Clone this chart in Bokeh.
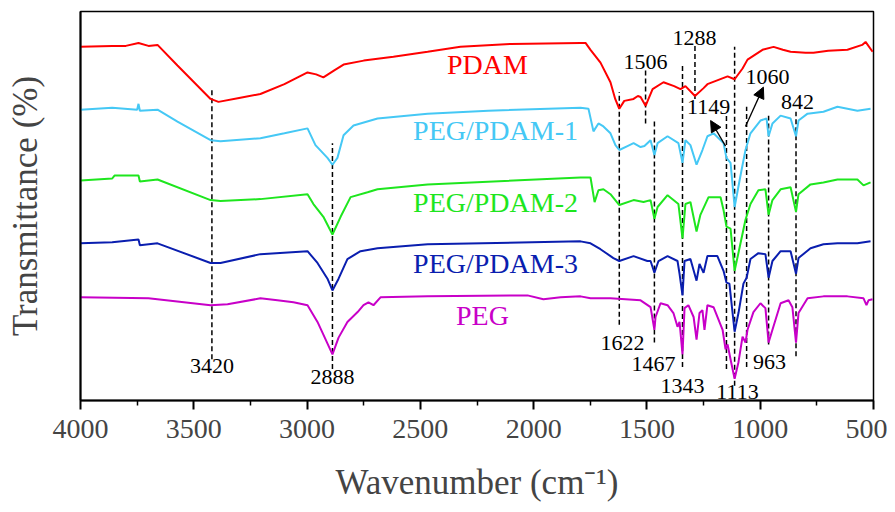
from bokeh.plotting import figure
from bokeh.models import Range1d, FixedTicker, Arrow, NormalHead
from bokeh.core.properties import value
from bokeh.embed import file_html
from bokeh.resources import INLINE

# ---------------- data (wavenumber in cm-1, transmittance in arbitrary offset units) -------------
pdam_wn = [4000, 3860, 3800, 3744, 3700, 3660, 3572, 3426, 3391, 3300, 3206, 3100, 2998, 2960, 2928, 2880,
           2839, 2750, 2619, 2468, 2323, 2100, 1793, 1771, 1749, 1705, 1661, 1640, 1622, 1600, 1559, 1540,
           1528, 1506, 1475, 1427, 1380, 1352, 1330, 1288, 1250, 1233, 1144, 1113, 1078, 1056, 990, 941,
           900, 866, 800, 765, 700, 615, 550, 535, 504]
pdam_t = [360, 361, 361, 364, 361, 362, 341, 307, 304, 308, 312, 322, 334, 332, 329, 336,
          342, 346, 350, 355, 360, 363, 364, 364, 357, 344, 324, 307, 297, 305, 307, 310,
          309, 300, 317, 324, 320, 317, 320, 310, 318, 322, 330, 327, 338, 347, 357, 360,
          357, 355, 354, 354, 356, 357, 362, 365, 355]

peg1_wn = [4000, 3860, 3750, 3744, 3738, 3660, 3572, 3426, 3382, 3206, 3100, 2998, 2963, 2910, 2888, 2866,
           2839, 2795, 2689, 2468, 2200, 1793, 1758, 1736, 1714, 1692, 1661, 1639, 1622, 1586, 1559, 1528,
           1511, 1484, 1467, 1453, 1409, 1361, 1343, 1330, 1308, 1281, 1255, 1233, 1206, 1162, 1149, 1131,
           1113, 1087, 1065, 1043, 999, 972, 963, 946, 910, 866, 842, 831, 791, 721, 659, 571, 513]
peg1_t = [296, 298, 296, 302, 295, 296, 284, 265, 264, 267, 272, 277, 260, 247, 240, 247,
          270, 280, 287, 292, 295, 298, 297, 274, 282, 279, 272, 260, 255, 259, 262, 258,
          259, 265, 250, 262, 269, 262, 242, 265, 260, 240, 255, 269, 272, 262, 247, 242,
          197, 229, 255, 272, 285, 287, 269, 282, 290, 287, 269, 285, 292, 294, 299, 295, 297]

peg2_wn = [4000, 3860, 3850, 3744, 3738, 3660, 3426, 3382, 3206, 2998, 2972, 2928, 2888, 2852, 2808, 2733,
           2689, 2468, 1793, 1749, 1731, 1714, 1692, 1661, 1622, 1559, 1515, 1484, 1467, 1453, 1409, 1361,
           1343, 1330, 1308, 1281, 1264, 1228, 1175, 1162, 1149, 1131, 1113, 1087, 1065, 1043, 1008, 977,
           963, 946, 910, 866, 842, 831, 778, 721, 659, 571, 544, 513]
peg2_t = [224, 226, 229, 229, 223, 225, 204, 203, 205, 210, 200, 187, 169, 187, 207, 212,
          215, 220, 227, 227, 202, 214, 215, 210, 199, 204, 202, 204, 185, 197, 209, 200,
          165, 200, 202, 172, 189, 207, 207, 194, 177, 175, 132, 160, 184, 200, 214, 215,
          189, 204, 215, 217, 192, 210, 220, 222, 225, 225, 219, 222]

peg3_wn = [4000, 3860, 3744, 3738, 3660, 3426, 3382, 3206, 2998, 2954, 2910, 2888, 2861, 2822, 2764, 2689,
           2468, 1793, 1749, 1705, 1648, 1622, 1559, 1498, 1484, 1467, 1449, 1409, 1365, 1356, 1343, 1334,
           1308, 1281, 1268, 1250, 1233, 1189, 1162, 1149, 1136, 1113, 1096, 1074, 1060, 1043, 1008, 977,
           963, 946, 910, 866, 842, 831, 778, 721, 659, 571, 513]
peg3_t = [160, 161, 164, 158, 160, 140, 140, 149, 152, 140, 124, 112, 124, 144, 152, 155,
          159, 162, 160, 154, 145, 142, 147, 142, 142, 130, 142, 147, 142, 129, 107, 142,
          144, 122, 139, 130, 147, 147, 132, 120, 119, 70, 89, 119, 125, 144, 150, 149,
          125, 142, 152, 152, 129, 145, 155, 159, 160, 160, 162]

peg_wn = [4000, 3700, 3426, 3351, 3206, 3131, 3060, 2998, 2954, 2928, 2888, 2861, 2822, 2777, 2751, 2729,
          2707, 2676, 2468, 2027, 1957, 1881, 1793, 1749, 1661, 1528, 1484, 1467, 1462, 1440, 1409, 1383,
          1365, 1356, 1343, 1334, 1317, 1294, 1281, 1268, 1255, 1246, 1233, 1206, 1166, 1153, 1144, 1131,
          1113, 1096, 1078, 1065, 1056, 1030, 999, 977, 963, 946, 910, 875, 858, 842, 831, 791, 721, 615,
          544, 531, 522, 504]
peg_t = [105, 104, 97, 98, 104, 102, 100, 97, 80, 67, 47, 64, 80, 90, 97, 100,
         97, 105, 106, 107, 103, 105, 106, 104, 104, 102, 95, 72, 85, 99, 97, 89,
         75, 80, 47, 94, 97, 85, 62, 89, 92, 72, 97, 95, 72, 52, 57, 42,
         22, 39, 65, 59, 72, 90, 99, 94, 59, 72, 99, 102, 95, 59, 89, 104, 106, 106,
         104, 97, 102, 103]

series_names = ["PDAM", "PEG/PDAM-1", "PEG/PDAM-2", "PEG/PDAM-3", "PEG"]

# peak marker lines
peak_wn = [3420, 2888, 1622, 1506, 1467, 1343, 1288, 1149, 1113, 1060, 963, 842]
peak_top = [319, 262, 314, 337, 285, 342, 362, 292, 360, 299, 290, 294]
peak_bottom = [42, 32, 77, 282, 59, 34, 307, 32, 15, 34, 57, 45]

# peak labels
plabel_text = ["3420", "2888", "1622", "1506", "1467", "1343", "1288", "1149", "1113", "1060", "963", "842"]
plabel_wn = [3420, 2888, 1608, 1506, 1471, 1343, 1290, 1228, 1100, 968, 959, 835]
plabel_t = [35, 24, 59, 345, 37, 15, 369, 299, 9, 329, 39, 304]

# arrows (start -> end)
arrow_wn0 = [1153, 1065]
arrow_t0 = [259, 279]
arrow_wn1 = [1219, 986]
arrow_t1 = [285, 319]

# series name labels
slabel_wn = [2204, 2168, 2168, 2168, 2226]
slabel_t = [342, 275, 202, 139, 87]

x_ticks = [4000, 3500, 3000, 2500, 2000, 1500, 1000, 500]
x_minor = [3750, 3250, 2750, 2250, 1750, 1250, 750]

# ---------------- figure -------------
FONT = "Liberation Serif"
colors = ["#FF0000", "#45C8F5", "#1EE61E", "#0A1EAF", "#C800C8"]

p = figure(width=887, height=504, x_range=Range1d(4000, 500), y_range=Range1d(0, 396),
           output_backend="svg", toolbar_location=None,
           min_border_left=80, min_border_right=14, min_border_top=11, min_border_bottom=97)
p.xgrid.visible = False
p.ygrid.visible = False
p.outline_line_color = "black"
p.outline_line_width = 1.5
p.background_fill_color = "white"
p.border_fill_color = "white"

p.xaxis.ticker = FixedTicker(ticks=x_ticks, minor_ticks=x_minor)
p.xaxis.axis_label = "Wavenumber (cm\u207b\u00b9)"
p.xaxis.axis_label_text_font = FONT
p.xaxis.axis_label_text_font_style = "normal"
p.xaxis.axis_label_text_font_size = "35px"
p.xaxis.axis_label_standoff = 22
p.xaxis.major_label_text_font = FONT
p.xaxis.major_label_text_font_size = "28px"
p.xaxis.major_label_standoff = 10
p.xaxis.major_tick_out = 9
p.xaxis.major_tick_in = 0
p.xaxis.minor_tick_out = 5
p.xaxis.minor_tick_in = 0
p.xaxis.axis_line_width = 2
p.xaxis.major_tick_line_width = 2
p.xaxis.minor_tick_line_width = 1.5

p.yaxis.ticker = FixedTicker(ticks=[])
p.yaxis.axis_label = "Transmittance (%)"
p.yaxis.axis_label_text_font = FONT
p.yaxis.axis_label_text_font_style = "normal"
p.yaxis.axis_label_text_font_size = "35px"
p.yaxis.axis_label_standoff = 36
p.yaxis.axis_line_width = 2
p.yaxis.major_tick_out = 0
p.yaxis.minor_tick_out = 0

# dashed peak lines
p.segment(x0=peak_wn, y0=peak_bottom, x1=peak_wn, y1=peak_top, line_color="black",
          line_width=1.5, line_dash="5 3")

# spectra
all_wn = [pdam_wn, peg1_wn, peg2_wn, peg3_wn, peg_wn]
all_t = [pdam_t, peg1_t, peg2_t, peg3_t, peg_t]
for wn, t, c in zip(all_wn, all_t, colors):
    p.line(wn, t, line_color=c, line_width=2)

# peak labels
p.text(x=plabel_wn, y=plabel_t, text=plabel_text, text_font=value(FONT), text_font_size="22px",
       text_align="center", text_baseline="middle", text_color="black")

# series labels
p.text(x=slabel_wn, y=slabel_t, text=series_names, text_font=value(FONT), text_font_size="28px",
       text_align="center", text_baseline="middle", text_color=colors)

# arrows
for i in range(len(arrow_wn0)):
    p.add_layout(Arrow(end=NormalHead(size=11, fill_color="black", line_color="black"),
                       x_start=arrow_wn0[i], y_start=arrow_t0[i], x_end=arrow_wn1[i], y_end=arrow_t1[i],
                       line_color="black", line_width=1.3))

open("out.html", "w").write(file_html(p, INLINE))
